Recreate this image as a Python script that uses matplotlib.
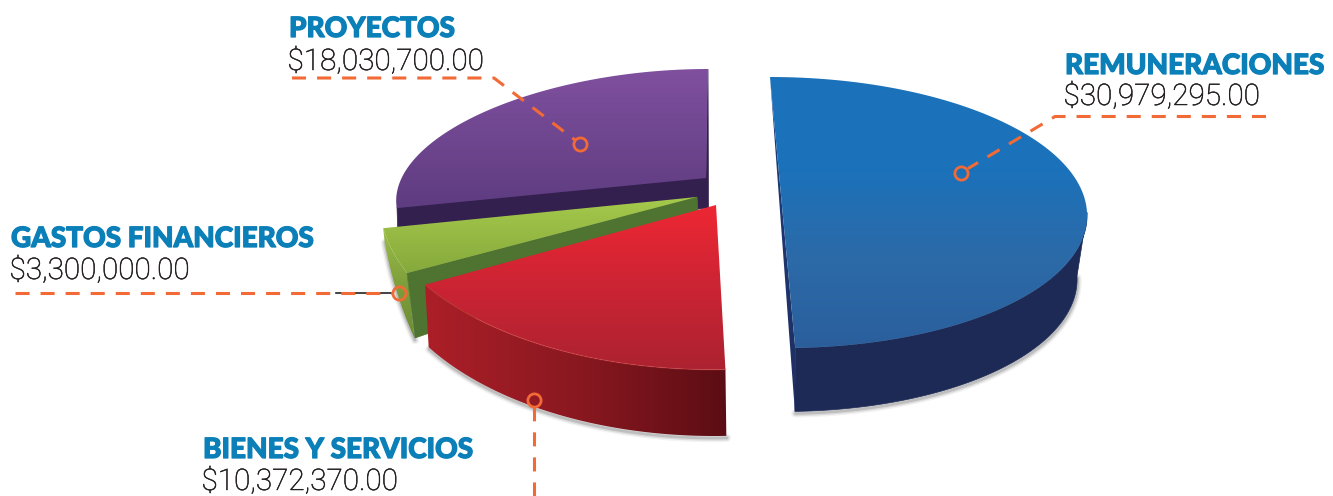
import numpy as np
import matplotlib
matplotlib.use('Agg')
import matplotlib.pyplot as plt
import matplotlib.patheffects as pe
from matplotlib.colors import LinearSegmentedColormap
from matplotlib.patches import Polygon

# data, clockwise from the top
categories = ['REMUNERACIONES', 'BIENES Y SERVICIOS', 'GASTOS FINANCIEROS', 'PROYECTOS']
values = [30979295.00, 10372370.00, 3300000.00, 18030700.00]
value_labels = ['$30,979,295.00', '$10,372,370.00', '$3,300,000.00', '$18,030,700.00']

# wedge angles come from the values
fracs = np.array(values) / sum(values)
edges = 90 - np.concatenate([[0], np.cumsum(fracs)]) * 360
t_blue = edges[0], edges[1]
t_red = edges[1], edges[2]
t_green = edges[2], edges[3]
t_purple = edges[3], edges[4]

ORANGE = '#f26a36'
TITLE_BLUE = '#0a7fb8'
HEAD_FONT = ['Lato', 'DejaVu Sans']
VALUE_FONT = ['Roboto', 'DejaVu Sans']

fig = plt.figure(figsize=(13.33, 4.96), dpi=100)
ax = fig.add_axes([0, 0, 1, 1])
ax.set_xlim(0, 1333)
ax.set_ylim(496, 0)
ax.axis('off')
ax.set_autoscale_on(False)

z = [10]


def arc(cx, cy, rx, ry, s, t0, t1, n=120):
    t = np.radians(np.linspace(t0, t1, n))
    return np.column_stack([cx + rx * np.cos(t) + s * np.sin(t), cy - ry * np.sin(t)])


def grad_fill(xy, colors, horizontal=False):
    xy = np.asarray(xy)
    z[0] += 1
    cmap = LinearSegmentedColormap.from_list('g', colors)
    g = np.linspace(0, 1, 256)
    g = g[None, :] if horizontal else g[:, None]
    x0, x1 = xy[:, 0].min(), xy[:, 0].max()
    y0, y1 = xy[:, 1].min(), xy[:, 1].max()
    im = ax.imshow(g, cmap=cmap, extent=(x0, x1, y1, y0), aspect='auto', zorder=z[0],
                   interpolation='bilinear', vmin=0, vmax=1)
    clip = Polygon(xy, closed=True, transform=ax.transData, fc='none', ec='none')
    ax.add_patch(clip)
    im.set_clip_path(clip)


def flat(xy, color):
    z[0] += 1
    ax.add_patch(Polygon(xy, closed=True, fc=color, ec=color, lw=0.5, zorder=z[0]))


def shadow(xy):
    xy = np.asarray(xy)
    for lw, a in [(6, 0.06), (4, 0.10), (2, 0.16)]:
        z[0] += 1
        ax.plot(xy[:, 0] + 0.5, xy[:, 1] + 2, color='#222222', lw=lw, alpha=a,
                solid_capstyle='round', zorder=z[0])


# purple, at the back
top = arc(663, 181.7, 263, 112.7, 45, t_purple[0], t_purple[1])
flat([(397, 207), (706, 176), (708, 69), (708.5, 208), (398, 240)], '#33204f')
grad_fill(np.vstack([[(706, 178)], top]), ['#80509f', '#5e3c80'])

# green
top = arc(564, 193.5, 186, 148, 0, t_green[1], t_green[0], 40)
low = arc(611, 165, 233, 322, 0, t_green[0], t_green[1], 40)
shadow(low)
grad_fill(np.vstack([top, low]), ['#9cbe46', '#7f9f3c', '#6c8c35'])
flat([(407, 273), (697, 197), (700, 240), (415, 338)], '#4f7330')
grad_fill(np.vstack([[(697, 197)], top]), ['#a6ca4c', '#86a93c'])

# red
top = arc(716, 186, 343, 183.6, 3, t_red[0], t_red[1])
low = arc(717, 244, 340, 192, 3, t_red[1], t_red[0])
shadow(low)
grad_fill(np.vstack([top, low]), ['#ac1f28', '#8a1820', '#5c0d14'], horizontal=True)
grad_fill(np.vstack([[(716, 205)], top]), ['#ee2733', '#cb2434', '#ac2230'])
z[0] += 1
ax.plot(top[:, 0], top[:, 1], color='#d8403c', lw=1.0, alpha=0.4, zorder=z[0])

# blue
top = arc(777, 212.5, 310, 135.5, -7, 0, t_blue[1])
low = arc(777, 276, 300, 135.5, -7, t_blue[1], 0)
back = arc(777, 212.5, 310, 135.5, -7, t_blue[0], t_blue[1])
shadow(low)
flat(np.vstack([top, low]), '#1c2a55')
grad_fill([(770, 77), low[0], top[-1]], ['#1d3c7c', '#1f2f62'])
grad_fill(back, ['#1b72ba', '#1b72ba', '#2c6aa8', '#2a5f9c'])


# callouts
def callout(xs, ys, cx, cy):
    z[0] += 1
    ax.plot(xs, ys, color=ORANGE, lw=2.2, dashes=(4.6, 3.6), zorder=z[0])
    ax.plot([cx], [cy], 'o', ms=9.5, mfc='none', mec=ORANGE, mew=2, zorder=z[0])


ax.plot([336, 392], [293, 293], color='#222222', lw=1.2, zorder=50)
z[0] = 60
callout([1266, 1055, 968], [116.5, 116.5, 168.5], 961, 173)
callout([534, 534], [496, 405], 534, 400)
callout([15, 393], [293, 293], 399, 293)
callout([292, 494, 575], [78, 78, 140], 579.5, 144)

# labels
label_pos = [(1065, 74, 105), (203, 458, 490), (11, 247, 279), (289, 37, 70)]
for name, val, (x, y1, y2) in zip(categories, value_labels, label_pos):
    ax.text(x, y1, name, color=TITLE_BLUE, fontsize=20.1, fontweight='black',
            family=HEAD_FONT, va='baseline', ha='left', zorder=80,
            path_effects=[pe.withStroke(linewidth=0.9, foreground=TITLE_BLUE)])
    ax.text(x - 1.5, y2, val, color='#231f20', fontsize=21.4, fontweight='light',
            family=VALUE_FONT, va='baseline', ha='left', zorder=80,
            path_effects=[pe.withStroke(linewidth=0.35, foreground='#231f20')])

fig.savefig('out.png', dpi=100, facecolor='white')
